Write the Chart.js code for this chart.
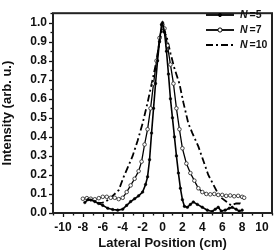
<!DOCTYPE html>
<html>
<head>
<meta charset="utf-8">
<script src="https://cdn.jsdelivr.net/npm/chart.js@4/dist/chart.umd.min.js"></script>
<style>
html,body{margin:0;padding:0;background:#fff;}
#wrap{width:279px;height:251px;position:relative;}
</style>
</head>
<body>
<div id="wrap"><canvas id="c" width="279" height="251"></canvas></div>
<script>
// ---- data ----
const seriesNames = ["5", "7", "10"];
const n5X = [-7.8,-7.5,-7.2,-6.8,-6.4,-6.0,-5.5,-5.0,-4.5,-4.0,-3.6,-3.2,-2.8,-2.4,-2.0,-1.7,-1.5,-1.3,-1.1,-0.9,-0.7,-0.5,-0.3,-0.1,0.0,0.2,0.4,0.6,0.8,1.0,1.2,1.4,1.6,1.8,2.0,2.2,2.5,2.8,3.1,3.5,4.0,4.5,5.0,5.3,5.6,5.9,6.3,6.7,7.0,7.4,7.7,8.0];
const n5Y = [0.055,0.07,0.068,0.06,0.05,0.04,0.025,0.018,0.015,0.02,0.04,0.06,0.075,0.09,0.11,0.15,0.19,0.28,0.42,0.55,0.68,0.8,0.9,0.99,1.0,0.95,0.85,0.73,0.6,0.5,0.4,0.3,0.21,0.13,0.07,0.035,0.03,0.045,0.058,0.045,0.03,0.015,0.008,0.02,0.03,0.01,0.015,0.025,0.03,0.02,0.01,0.015];
const n7X = [-8.0,-7.6,-7.2,-6.8,-6.4,-6.0,-5.6,-5.2,-4.8,-4.4,-4.0,-3.6,-3.2,-2.8,-2.4,-2.1,-1.8,-1.5,-1.2,-0.9,-0.6,-0.3,0.0,0.2,0.5,0.8,1.1,1.4,1.7,2.0,2.4,2.8,3.2,3.6,4.0,4.4,4.8,5.2,5.6,6.0,6.4,6.8,7.2,7.6,8.0,8.2];
const n7Y = [0.075,0.078,0.075,0.072,0.078,0.085,0.085,0.08,0.08,0.073,0.08,0.11,0.145,0.18,0.22,0.27,0.36,0.44,0.55,0.68,0.8,0.92,0.99,0.97,0.88,0.78,0.68,0.55,0.44,0.34,0.26,0.21,0.17,0.13,0.11,0.1,0.098,0.1,0.095,0.095,0.09,0.092,0.088,0.09,0.085,0.08];
const n10X = [-6.6,-6.0,-5.4,-4.9,-4.4,-3.9,-3.4,-3.0,-2.5,-2.0,-1.5,-1.0,-0.6,-0.3,0.0,0.4,0.8,1.2,1.7,2.1,2.6,3.0,3.6,4.0,4.6,5.1,5.5,5.9,6.4,6.9,7.4,7.8,8.0];
const n10Y = [0.05,0.055,0.07,0.095,0.12,0.19,0.25,0.3,0.38,0.47,0.58,0.7,0.8,0.9,0.97,0.93,0.84,0.76,0.68,0.58,0.47,0.42,0.35,0.29,0.2,0.15,0.11,0.08,0.06,0.04,0.05,0.05,0.04];
const xTickLabels = [-10,-8,-6,-4,-2,0,2,4,6,8,10];
const yTickLabels = [0.0,0.1,0.2,0.3,0.4,0.5,0.6,0.7,0.8,0.9,1.0];

const pts = (xs, ys) => xs.map((x, i) => ({x: x, y: ys[i]}));

const FONT = "'Liberation Sans', Arial, sans-serif";

const frameAndTicks = {
  id: 'frameAndTicks',
  afterDraw(chart) {
    const ctx = chart.ctx, a = chart.chartArea;
    const xs = chart.scales.x, ys = chart.scales.y;
    ctx.save();
    ctx.strokeStyle = '#111';
    ctx.lineWidth = 1.3;
    for (let v = -11; v <= 11; v++) {
      const px = Math.round(xs.getPixelForValue(v)) + 0.5;
      const len = (v % 2 === 0) ? 4 : 2.5;
      ctx.beginPath(); ctx.moveTo(px, a.bottom); ctx.lineTo(px, a.bottom + len); ctx.stroke();
    }
    for (let k = 0; k <= 21; k++) {
      const v = k * 0.05;
      const py = Math.round(ys.getPixelForValue(v)) + 0.5;
      const len = (k % 2 === 0) ? 4 : 2.5;
      ctx.beginPath(); ctx.moveTo(a.left, py); ctx.lineTo(a.left - len, py); ctx.stroke();
    }
    ctx.lineWidth = 2;
    ctx.strokeStyle = '#222';
    ctx.strokeRect(a.left, a.top, a.right - a.left, a.bottom - a.top);
    // legend
    const dsets = chart.data.datasets;
    const rows = [15, 30, 45];
    dsets.forEach((d, i) => {
      const y = rows[i];
      ctx.save();
      ctx.strokeStyle = '#000';
      ctx.lineWidth = 1.8;
      ctx.setLineDash(d.borderDash || []);
      ctx.beginPath(); ctx.moveTo(206, y); ctx.lineTo(234, y); ctx.stroke();
      ctx.setLineDash([]);
      if (d.pointRadius > 0) {
        ctx.beginPath(); ctx.arc(220, y, d.pointRadius + 0.3, 0, Math.PI * 2);
        ctx.fillStyle = d.pointBackgroundColor; ctx.fill();
        ctx.lineWidth = 1; ctx.strokeStyle = '#000'; ctx.stroke();
      }
      ctx.fillStyle = '#111';
      ctx.textBaseline = 'middle';
      ctx.textAlign = 'left';
      ctx.font = "italic bold 10.5px " + FONT;
      ctx.fillText('N', 240, y + 0.5);
      const w = ctx.measureText('N').width;
      ctx.font = "bold 10.5px " + FONT;
      ctx.fillText('=' + seriesNames[i], 240 + w + 2, y + 0.5);
      ctx.restore();
    });
    ctx.restore();
  }
};

new Chart(document.getElementById('c'), {
  type: 'line',
  data: {
    datasets: [
      {label: 'N =' + seriesNames[0], data: pts(n5X, n5Y), borderColor: '#000', borderWidth: 1.6,
       pointRadius: 1.3, pointBackgroundColor: '#000', pointBorderColor: '#000', pointBorderWidth: 0.5, tension: 0},
      {label: 'N =' + seriesNames[1], data: pts(n7X, n7Y), borderColor: '#000', borderWidth: 1.3,
       pointRadius: 1.8, pointBackgroundColor: '#fff', pointBorderColor: '#333', pointBorderWidth: 0.9, tension: 0},
      {label: 'N =' + seriesNames[2], data: pts(n10X, n10Y), borderColor: '#000', borderWidth: 1.8,
       borderDash: [7, 3, 2, 3], pointRadius: 0, tension: 0}
    ]
  },
  options: {
    responsive: false,
    animation: false,
    devicePixelRatio: 1,
    layout: {padding: {top: 3, right: 2, left: 0, bottom: 0}},
    plugins: {legend: {display: false}, tooltip: {enabled: false}},
    scales: {
      x: {
        type: 'linear', min: -11, max: 11,
        afterFit(s) { s.height = 38; },
        grid: {display: false, drawTicks: false},
        border: {display: false},
        ticks: {
          stepSize: 1, autoSkip: false, maxRotation: 0, padding: 7,
          color: '#111', font: {family: FONT, size: 12, weight: 'bold'},
          callback: (v) => xTickLabels.includes(v) ? String(v) : ''
        },
        title: {display: true, text: 'Lateral Position (cm)', color: '#111',
                font: {family: FONT, size: 13, weight: 'bold'}, padding: {top: 4, bottom: 0}}
      },
      y: {
        type: 'linear', min: 0, max: 1.05,
        afterFit(s) { s.width = 53; },
        grid: {display: false, drawTicks: false},
        border: {display: false},
        ticks: {
          stepSize: 0.05, autoSkip: false, padding: 6,
          color: '#111', font: {family: FONT, size: 12, weight: 'bold'},
          callback: (v) => {
            const r = Math.round(v * 100);
            return (r % 10 === 0 && yTickLabels.includes(r / 100)) ? (r / 100).toFixed(1) : '';
          }
        },
        title: {display: true, text: 'Intensity (arb. u.)', color: '#111',
                font: {family: FONT, size: 13, weight: 'bold'}, padding: {top: 0, bottom: 2}}
      }
    }
  },
  plugins: [frameAndTicks]
});
</script>
</body>
</html>
